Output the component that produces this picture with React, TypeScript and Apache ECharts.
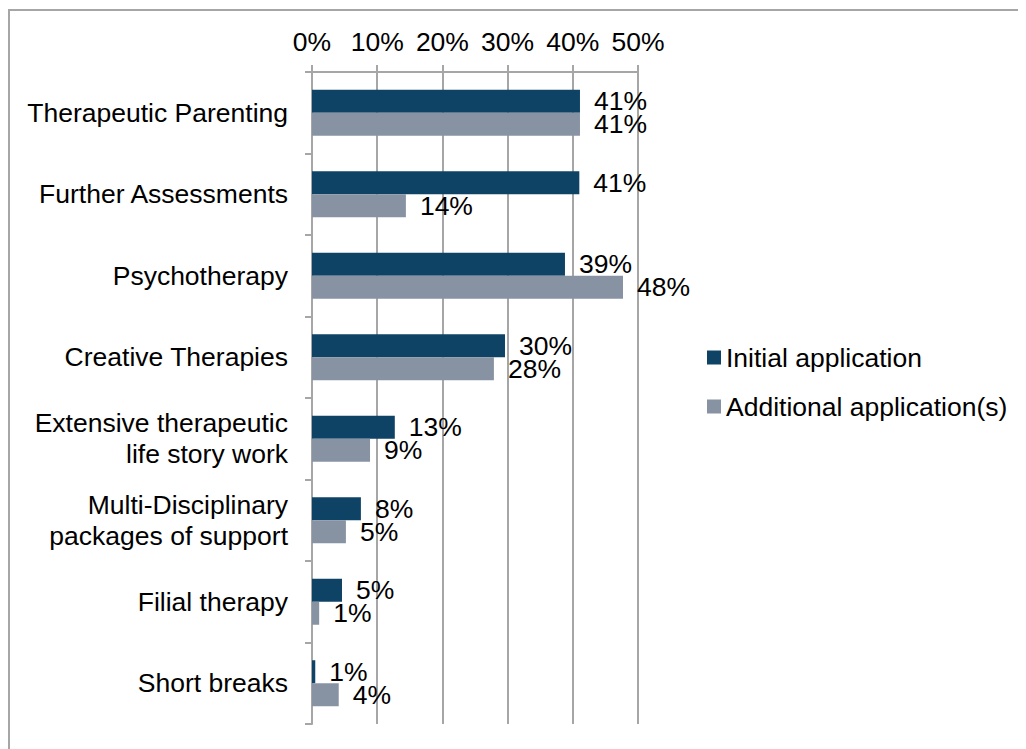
import React, { useEffect, useRef } from "react";
import * as echarts from "echarts";

const categories = [
  "Therapeutic Parenting",
  "Further Assessments",
  "Psychotherapy",
  "Creative Therapies",
  "Extensive therapeutic\nlife story work",
  "Multi-Disciplinary\npackages of support",
  "Filial therapy",
  "Short breaks",
];
const initialApplication = [41.1, 41.0, 38.8, 29.6, 12.7, 7.5, 4.6, 0.5];
const additionalApplications = [41.1, 14.4, 47.7, 27.9, 8.9, 5.2, 1.1, 4.1];
const seriesNames = ["Initial application", "Additional application(s)"];

const FONT = "'Liberation Sans', Arial, sans-serif";
const FS = 26.5;

export default function App() {
  const ref = useRef<HTMLDivElement>(null);
  useEffect(() => {
    if (!ref.current) return;
    const chart = echarts.init(ref.current, undefined, { renderer: "svg" });
    const labelCfg = {
      show: true,
      position: "right",
      distance: 14,
      fontSize: FS,
      lineHeight: 22,
      fontFamily: FONT,
      color: "#000",
      formatter: (p: any) => Math.round(p.value) + "%",
    };
    chart.setOption({
      animation: false,
      backgroundColor: "#fff",
      textStyle: { fontFamily: FONT },
      graphic: [
        { type: "line", shape: { x1: 1, y1: 2, x2: 1100, y2: 2 }, style: { stroke: "#a6a6a6", lineWidth: 2 } },
        { type: "line", shape: { x1: 1, y1: 1, x2: 1, y2: 1000 }, style: { stroke: "#a6a6a6", lineWidth: 2 } },
      ],
      grid: { left: 304, right: 388, top: 64, bottom: 25, containLabel: false },
      legend: {
        orient: "vertical",
        left: 694,
        top: 331,
        itemWidth: 14,
        itemHeight: 14,
        itemGap: 22,
        icon: "rect",
        textStyle: { fontSize: FS, fontFamily: FONT, color: "#000" },
        data: seriesNames,
      },
      xAxis: {
        type: "value",
        position: "top",
        min: 0,
        max: 50,
        interval: 10,
        axisLine: { show: true, lineStyle: { color: "#a6a6a6", width: 2 } },
        axisTick: { show: true, length: 7, lineStyle: { color: "#a6a6a6", width: 2 } },
        axisLabel: { fontSize: FS, fontFamily: FONT, color: "#000", margin: 17, formatter: "{value}%" },
        splitLine: { show: true, lineStyle: { color: "#a6a6a6", width: 2 } },
      },
      yAxis: {
        type: "category",
        inverse: true,
        data: categories,
        axisLine: { show: true, lineStyle: { color: "#a6a6a6", width: 2 } },
        axisTick: { show: true, length: 7, lineStyle: { color: "#a6a6a6", width: 2 } },
        axisLabel: { fontSize: FS, fontFamily: FONT, color: "#000", margin: 24, lineHeight: 31, align: "right" },
        splitLine: { show: false },
      },
      series: [
        {
          name: seriesNames[0],
          type: "bar",
          data: initialApplication,
          barWidth: 23,
          barGap: "0%",
          itemStyle: { color: "#0f4366" },
          label: labelCfg,
        },
        {
          name: seriesNames[1],
          type: "bar",
          data: additionalApplications,
          barWidth: 23,
          barGap: "0%",
          itemStyle: { color: "#8793a3" },
          label: labelCfg,
        },
      ],
    });
    return () => chart.dispose();
  }, []);
  return <div ref={ref} style={{ width: 1018, height: 741 }} />;
}
